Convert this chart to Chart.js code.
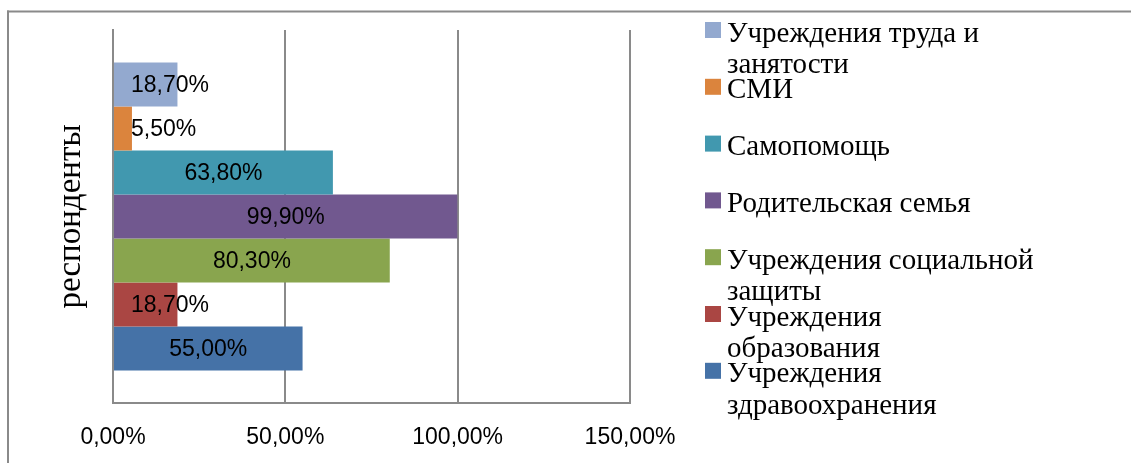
<!DOCTYPE html>
<html lang="ru">
<head>
<meta charset="utf-8">
<title>respondents</title>
<script src="https://cdn.jsdelivr.net/npm/chart.js@4/dist/chart.umd.min.js"></script>
<style>
  html, body { margin: 0; padding: 0; background: #ffffff; overflow: hidden; }
  canvas { display: block; }
</style>
</head>
<body>
<canvas id="chart" width="1131" height="463"></canvas>
<script>
"use strict";

/* ---------- data ---------- */

const categories = ["респонденты"];

// legend text, already wrapped the way the original shows it (top to bottom)
const seriesNames = [
  ["Учреждения труда и", "занятости"],
  ["СМИ"],
  ["Самопомощь"],
  ["Родительская семья"],
  ["Учреждения социальной", "защиты"],
  ["Учреждения", "образования"],
  ["Учреждения", "здравоохранения"]
];

const seriesValues = [18.7, 5.5, 63.8, 99.9, 80.3, 18.7, 55.0];

const seriesColors = ["#93A9CF", "#DB843D", "#4198AF", "#71588F", "#89A54E", "#AA4643", "#4572A7"];

const xTicks = [0, 50, 100, 150];

const pct = v => v.toFixed(2).replace(".", ",") + "%";

/* ---------- look ---------- */

const SANS = "'Liberation Sans', Arial, sans-serif";
const SERIF = "'Liberation Serif', 'Times New Roman', serif";
const GRID = "#8a8a8a";

/* ---------- plugins ---------- */

// grey frame round the whole chart (only top and left edges are in the crop)
const framePlugin = {
  id: "frame",
  beforeDraw(chart) {
    const ctx = chart.ctx;
    ctx.save();
    ctx.fillStyle = "#ffffff";
    ctx.fillRect(0, 0, chart.width, chart.height);
    ctx.fillStyle = GRID;
    ctx.fillRect(7, 10.5, chart.width - 7, 2); // top edge
    ctx.fillRect(7, 10.5, 2, chart.height);    // left edge
    ctx.restore();
  }
};

// value labels, centred on the bar, nudged right when the bar is too short
const valueLabels = {
  id: "valueLabels",
  afterDatasetsDraw(chart) {
    const ctx = chart.ctx;
    ctx.save();
    ctx.font = "23px " + SANS;
    ctx.fillStyle = "#000000";
    ctx.textBaseline = "middle";
    ctx.textAlign = "left";
    chart.data.datasets.forEach((ds, i) => {
      const bar = chart.getDatasetMeta(i).data[0];
      const text = pct(ds.data[0]);
      const w = ctx.measureText(text).width;
      let x = (bar.x + bar.base) / 2 - w / 2;
      if (x < bar.base + 17) x = bar.base + 17;
      ctx.fillText(text, x, bar.y + 1);
    });
    ctx.restore();
  }
};

// legend on the right, drawn by hand so long names can wrap
const sideLegend = {
  id: "sideLegend",
  afterDraw(chart) {
    const ctx = chart.ctx;
    const boxX = 705, textX = 727, top0 = 22, step = 56.8, lineGap = 31.6;
    ctx.save();
    ctx.font = "29px " + SERIF;
    ctx.textBaseline = "alphabetic";
    ctx.textAlign = "left";
    chart.data.datasets.forEach((ds, i) => {
      const top = top0 + i * step;
      ctx.fillStyle = ds.backgroundColor;
      ctx.fillRect(boxX, top, 16, 16);
      ctx.fillStyle = "#000000";
      seriesNames[i].forEach((line, k) => {
        ctx.fillText(line, textX, top + 19.5 + k * lineGap);
      });
    });
    ctx.restore();
  }
};

/* ---------- chart ---------- */

const datasets = seriesNames.map((name, i) => ({
  label: name.join(" "),
  data: [seriesValues[i]],
  backgroundColor: seriesColors[i],
  borderWidth: 0,
  barPercentage: 1,
  categoryPercentage: 0.826
}));

new Chart(document.getElementById("chart"), {
  type: "bar",
  data: { labels: categories, datasets },
  plugins: [framePlugin, valueLabels, sideLegend],
  options: {
    indexAxis: "y",
    responsive: false,
    animation: false,
    layout: { padding: { top: 30, right: 501, bottom: 0, left: 0 } },
    plugins: {
      legend: { display: false },
      tooltip: { enabled: false }
    },
    scales: {
      x: {
        min: 0,
        max: 150,
        afterBuildTicks: axis => { axis.ticks = xTicks.map(v => ({ value: v })); },
        afterFit: axis => { axis.height = 60; },
        ticks: {
          callback: v => pct(v),
          color: "#000000",
          font: { family: SANS, size: 23 },
          padding: 21,
          maxRotation: 0
        },
        grid: { color: GRID, lineWidth: 2, drawTicks: false },
        border: { color: GRID, width: 2 }
      },
      y: {
        afterFit: axis => { axis.width = 113; },
        ticks: { display: false },
        grid: { display: false, drawTicks: false },
        border: { color: GRID, width: 2 },
        title: {
          display: true,
          text: categories[0],
          color: "#000000",
          font: { family: SERIF, size: 33, lineHeight: 1.2 },
          padding: { top: 52, bottom: 0 }
        }
      }
    }
  }
});
</script>
</body>
</html>
